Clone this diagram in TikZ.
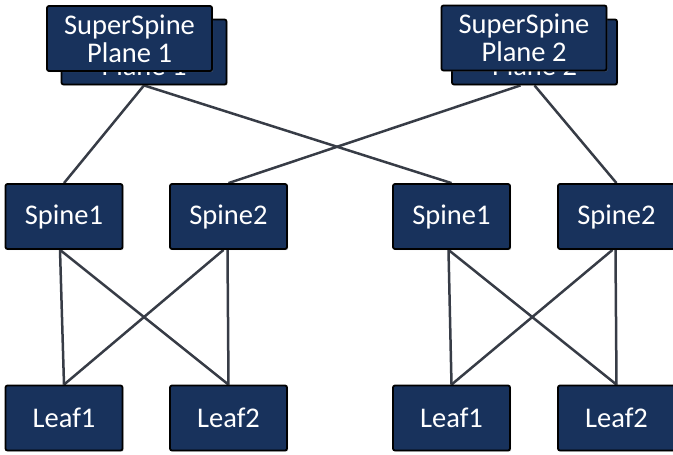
\documentclass[tikz,border=0pt]{standalone}
\usepackage{fontspec}
\setmainfont{Carlito}
\usetikzlibrary{shadows,backgrounds}
\definecolor{boxfill}{RGB}{24,50,92}
\definecolor{linkcol}{RGB}{55,60,70}
\tikzset{
  devbox/.style={draw=black, line width=1.8pt, rounded corners=2pt, fill=boxfill,
    text=white, font=\fontsize{28.5}{28}\selectfont, align=center, inner sep=0pt,
    drop shadow={opacity=0.35, shadow xshift=1.2pt, shadow yshift=-1.2pt}},
  ssbox/.style={devbox, minimum width=165pt, minimum height=65pt},
  swbox/.style={devbox, minimum width=117pt, minimum height=65pt},
  link/.style={draw=linkcol, line width=2.5pt}
}
\begin{document}
\begin{tikzpicture}[x=1pt, y=-1pt]
\useasboundingbox (0,0) rectangle (673,455);
% super spine planes (back copies first)
\node[ssbox] (ss1b) at (144,52) {SuperSpine\\Plane 1};
\node[ssbox] (ss1) at (129.5,38.5) {SuperSpine\\Plane 1};
\node[ssbox] (ss2b) at (534.5,52) {SuperSpine\\Plane 2};
\node[ssbox] (ss2) at (524,38) {SuperSpine\\Plane 2};
% spines
\node[swbox] (sa1) at (64,216.5) {Spine1};
\node[swbox] (sa2) at (228.5,216.5) {Spine2};
\node[swbox] (sb1) at (451.5,216.5) {Spine1};
\node[swbox] (sb2) at (616.5,216.5) {Spine2};
% leaves
\node[swbox] (la1) at (64,418) {Leaf1};
\node[swbox] (la2) at (228.5,418) {Leaf2};
\node[swbox] (lb1) at (451.5,418) {Leaf1};
\node[swbox] (lb2) at (616.5,418) {Leaf2};
\begin{scope}[on background layer]
\draw[link] (ss1b.south) -- (sa1.north);
\draw[link] (ss1b.south) -- (sb1.north);
\draw[link] ([xshift=-14pt]ss2b.south) -- (sa2.north);
\draw[link] (ss2b.south) -- (sb2.north);
\draw[link] ([xshift=-4pt]sa1.south) -- (la1.north);
\draw[link] ([xshift=-4pt]sa1.south) -- (la2.north);
\draw[link] ([xshift=-1pt]sa2.south) -- (la2.north);
\draw[link] ([xshift=-5pt]sa2.south) -- (la1.north);
\draw[link] ([xshift=-3pt]sb1.south) -- (lb1.north);
\draw[link] ([xshift=-3pt]sb1.south) -- (lb2.north);
\draw[link] ([xshift=-1pt]sb2.south) -- (lb2.north);
\draw[link] ([xshift=-4pt]sb2.south) -- (lb1.north);
\end{scope}
\end{tikzpicture}
\end{document}
